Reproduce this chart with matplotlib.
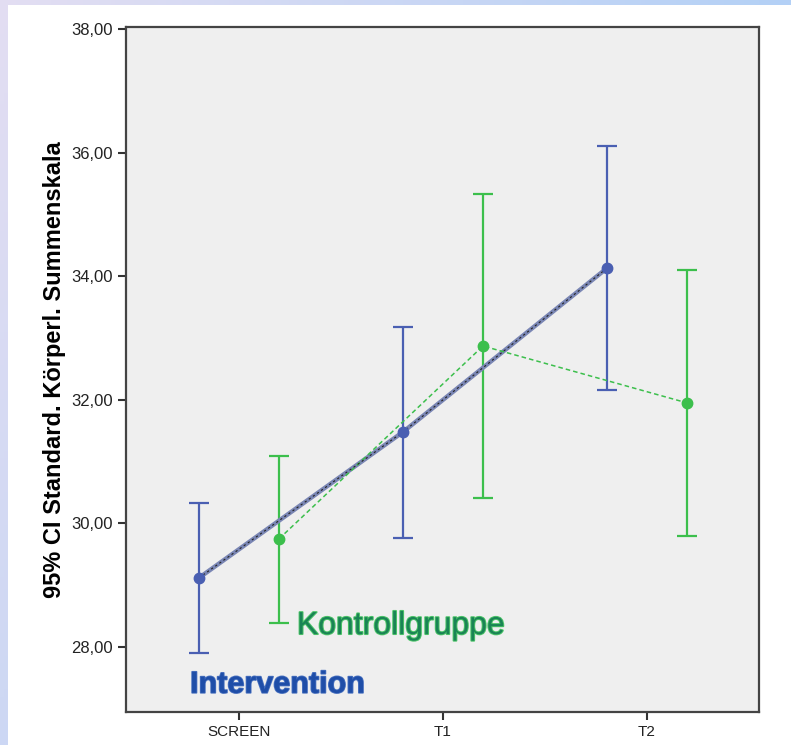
import numpy as np
import matplotlib
matplotlib.use("Agg")
import matplotlib.pyplot as plt
import matplotlib.patheffects as pe
from matplotlib.ticker import FixedLocator, FuncFormatter

plt.rcParams['font.family'] = ['Liberation Sans', 'DejaVu Sans']

# Daten (Mittelwert und 95%-KI)
zeitpunkte = ["SCREEN", "T1", "T2"]
interv_mean = [29.12, 31.48, 34.13]
interv_low = [27.90, 29.76, 32.16]
interv_high = [30.33, 33.18, 36.11]
kontr_mean = [29.75, 32.87, 31.95]
kontr_low = [28.39, 30.41, 29.80]
kontr_high = [31.09, 35.33, 34.10]
y_ticks = [28, 30, 32, 34, 36, 38]

blau = "#4a5fb2"
gruen = "#3cbf4c"

fig = plt.figure(figsize=(7.91, 7.45), dpi=100)

# Hintergrund mit Verlaufsrand
bg = fig.add_axes([0, 0, 1, 1], zorder=-10)
gx = np.linspace(0, 1, 200)
gy = np.linspace(0, 1, 200)
GX, GY = np.meshgrid(gx, gy)
c1 = np.array([0.89, 0.87, 0.95])
c2 = np.array([0.64, 0.80, 0.97])
t = np.clip(0.75 * GX + 0.35 * GY, 0, 1)[..., None]
bg.imshow(c1 * (1 - t) + c2 * t, extent=[0, 1, 0, 1], aspect='auto', origin='upper')
bg.add_patch(plt.Rectangle((8 / 791, 0), 1, 1 - 5 / 745, color='white', lw=0))
bg.set_xlim(0, 1)
bg.set_ylim(0, 1)
bg.axis('off')

ax = fig.add_axes([126 / 791, 1 - 712 / 745, 633 / 791, 685 / 745])
ax.set_facecolor("#efefef")

x = np.arange(len(zeitpunkte))
off = 0.196
xi = x - off
xk = x + off

# Intervention
ax.errorbar(xi, interv_mean,
            yerr=[np.array(interv_mean) - np.array(interv_low),
                  np.array(interv_high) - np.array(interv_mean)],
            fmt='none', ecolor=blau, elinewidth=1.6, capsize=7.5, capthick=1.6, zorder=3)
ax.plot(xi, interv_mean, color="#7a86b4", lw=3.2, zorder=4)
ax.plot(xi, interv_mean, color="#222222", lw=0.8, ls=(0, (2, 2.5)), zorder=5)
ax.plot(xi, interv_mean, 'o', color=blau, ms=7.5, zorder=6)

# Kontrollgruppe
ax.errorbar(xk, kontr_mean,
            yerr=[np.array(kontr_mean) - np.array(kontr_low),
                  np.array(kontr_high) - np.array(kontr_mean)],
            fmt='none', ecolor=gruen, elinewidth=1.6, capsize=7.5, capthick=1.6, zorder=3)
ax.plot(xk, kontr_mean, color=gruen, lw=1.1, ls=(0, (3, 2)), zorder=4)
ax.plot(xk, kontr_mean, 'o', color=gruen, ms=7.5, zorder=6)

# Beschriftungen
ax.text(0.284, 28.34, "Kontrollgruppe", color="#1a8455", fontsize=23,
        va='center', ha='left', zorder=7,
        path_effects=[pe.withStroke(linewidth=1.4, foreground="#4cc468")])
ax.text(-0.24, 27.39, "Intervention", color="#1f4ea8", fontsize=22,
        fontweight='bold', va='center', ha='left', zorder=7,
        path_effects=[pe.withStroke(linewidth=1.2, foreground="#4a72c0")])

ax.set_xlim(-0.554, 2.549)
ax.set_ylim(26.95, 38.03)
ax.set_xticks(x)
ax.set_xticklabels(zeitpunkte, fontsize=11, color="#222222")
ax.yaxis.set_major_locator(FixedLocator(y_ticks))
ax.yaxis.set_major_formatter(FuncFormatter(lambda v, p: f"{v:.2f}".replace('.', ',')))
ax.tick_params(axis='y', labelsize=12, labelcolor="#222222", colors="#333333",
               length=6, width=1.5, direction='out')
ax.tick_params(axis='x', length=6, width=1.5, direction='out', colors="#333333",
               labelcolor="#222222")
for s in ax.spines.values():
    s.set_color("#444444")
    s.set_linewidth(1.6)

ax.set_ylabel("95% CI Standard. Körperl. Summenskala", fontsize=17,
              fontweight='bold', labelpad=4)

fig.savefig("out.png", dpi=100)
